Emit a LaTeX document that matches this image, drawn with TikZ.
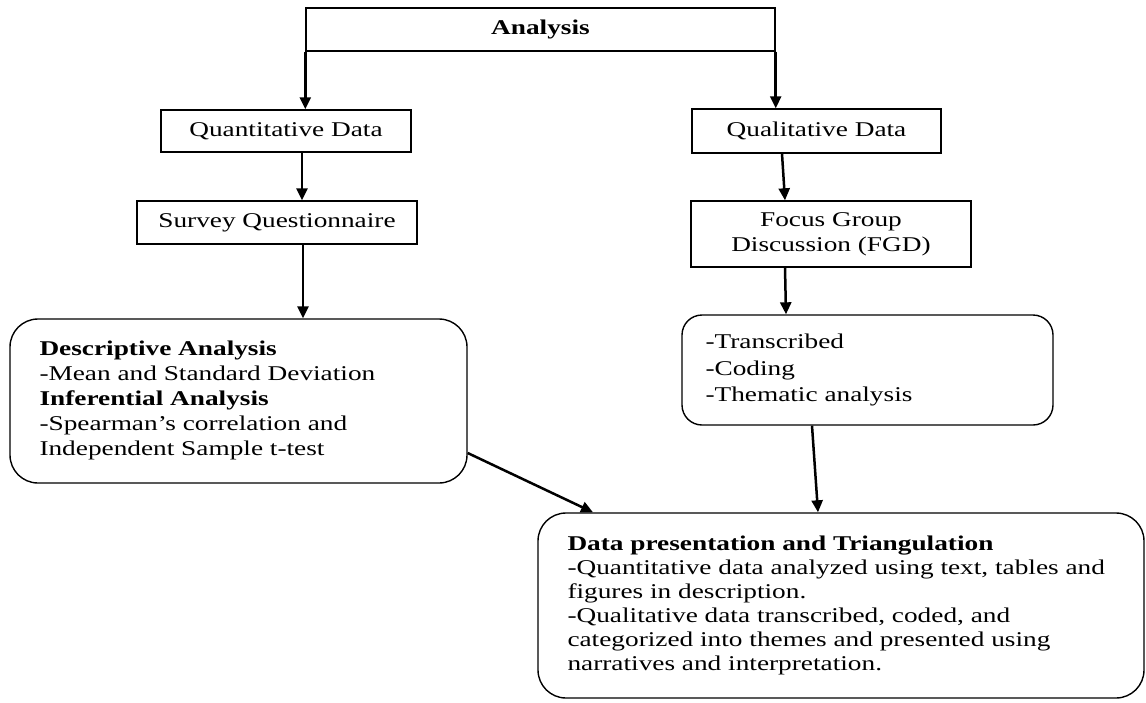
\documentclass[tikz,border=0pt]{standalone}
\usepackage{fontspec}
\setmainfont{Liberation Serif}[FakeStretch=1.3]
\usetikzlibrary{arrows.meta}
\begin{document}
\begin{tikzpicture}[x=1pt,y=-1pt,
  sqbox/.style={draw, line width=1.4pt, inner sep=0pt, align=center, font=\fontsize{21}{25}\selectfont},
  rbox/.style={draw, line width=1.4pt, inner sep=0pt, rounded corners=28pt},
  txt/.style={inner sep=0pt, align=left, font=\fontsize{21}{24}\selectfont},
  arr/.style={line width=2.5pt, -{Triangle[length=12pt,width=11pt]}}
]
\useasboundingbox (0,0) rectangle (1146,702);

\node[sqbox, minimum width=469pt, minimum height=43pt] (analysis) at (540.5,29.5) {\textbf{Analysis}};
\node[sqbox, minimum width=250pt, minimum height=42pt] (quant) at (286,131) {Quantitative Data};
\node[sqbox, minimum width=249pt, minimum height=44pt] (qual) at (816.5,131) {Qualitative Data};
\node[sqbox, minimum width=280pt, minimum height=43pt] (survey) at (277,222.5) {Survey Questionnaire};
\node[sqbox, minimum width=280pt, minimum height=66pt] (fgd) at (831,234) {Focus Group\\Discussion (FGD)};

\node[rbox, minimum width=457pt, minimum height=164pt] (desc) at (238.5,401) {};
\node[rbox, rounded corners=20pt, minimum width=371pt, minimum height=110pt] (trans) at (867.5,370) {};
\node[rbox, minimum width=606pt, minimum height=185pt] (data) at (841,605.5) {};

\node[txt, font=\fontsize{21}{25}\selectfont, anchor=west] (desctext) at ([xshift=30pt,yshift=1pt]desc.west)
  {\textbf{Descriptive Analysis}\\-Mean and Standard Deviation\\\textbf{Inferential Analysis}\\-Spearman’s correlation and\\Independent Sample t-test};
\node[txt, font=\fontsize{21}{26.5}\selectfont, anchor=west] (transtext) at ([xshift=24pt]trans.west)
  {-Transcribed\\-Coding\\-Thematic analysis};
\node[txt, anchor=west] (datatext) at ([xshift=30pt]data.west)
  {\textbf{Data presentation and Triangulation}\\-Quantitative data analyzed using text, tables and\\figures in description.\\-Qualitative data transcribed, coded, and\\categorized into themes and presented using\\narratives and interpretation.};

\draw[arr] (analysis.south west) -- (analysis.south west |- quant.north);
\draw[arr] (analysis.south east) -- (analysis.south east |- qual.north);
\draw[arr] ([xshift=16pt]quant.south) -- ([xshift=16pt]quant.south |- survey.north);
\draw[arr] ([xshift=26pt]survey.south) -- ([xshift=26pt]survey.south |- desc.north);
\draw[arr] ([xshift=-34.5pt]qual.south) -- ([xshift=-46pt]fgd.north);
\draw[arr] ([xshift=-46pt]fgd.south) -- ([xshift=-81.5pt]trans.north);
\draw[arr] ([xshift=-55.5pt]trans.south) -- ([xshift=-23pt]data.north);
\draw[arr] ([yshift=-52pt]desc.east) -- ([xshift=-248pt]data.north);
\end{tikzpicture}
\end{document}
